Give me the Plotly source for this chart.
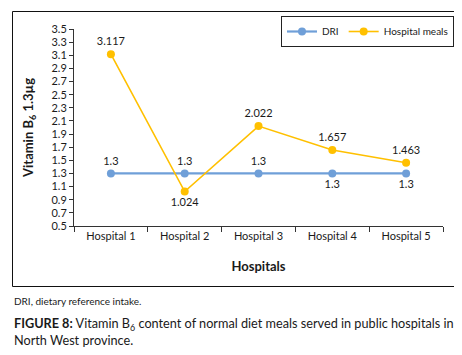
import plotly.graph_objects as go

categories = ["Hospital 1", "Hospital 2", "Hospital 3", "Hospital 4", "Hospital 5"]
dri = [1.3, 1.3, 1.3, 1.3, 1.3]
meals = [3.117, 1.024, 2.022, 1.657, 1.463]
dri_labels = ["1.3", "1.3", "1.3", "1.3", "1.3"]
meal_labels = ["3.117", "1.024", "2.022", "1.657", "1.463"]
dri_pos = ["top center", "top center", "top center", "bottom center", "bottom center"]
meal_pos = ["top center", "bottom center", "top center", "top center", "top center"]

FONT = "Lato"
TXT = "#1a1a1a"

fig = go.Figure()
fig.add_trace(go.Scatter(
    x=categories, y=dri, name="DRI", mode="lines+markers+text",
    line=dict(color="#6f9fd8", width=2.2), marker=dict(size=8, color="#6f9fd8"),
    text=dri_labels, textposition=dri_pos,
    textfont=dict(family=FONT, size=11, color=TXT), cliponaxis=False))
fig.add_trace(go.Scatter(
    x=categories, y=meals, name="Hospital meals", mode="lines+markers+text",
    line=dict(color="#ffc000", width=1.6), marker=dict(size=8, color="#ffc000"),
    text=meal_labels, textposition=meal_pos,
    textfont=dict(family=FONT, size=11, color=TXT), cliponaxis=False))

OFF = 8  # page body margin
L, R, T, B = 74, 443, 29, 226  # page coordinates of plot area
W, H = 454, 339  # figure size
pw, ph = R - L, B - T

def px(x):
    return (x - L) / pw

def py(y):
    return (B - y) / ph

fig.update_layout(
    width=W, height=H,
    margin=dict(l=L - OFF, r=W - (R - OFF), t=T - OFF, b=H - (B - OFF), autoexpand=False),
    paper_bgcolor="white", plot_bgcolor="white",
    font=dict(family=FONT, size=11, color=TXT),
    showlegend=True,
    legend=dict(orientation="h", x=px(454), xanchor="right", y=py(16), yanchor="top",
                bordercolor="#222", borderwidth=1, font=dict(size=10, family=FONT),
                bgcolor="white", itemwidth=30, tracegroupgap=0),
    xaxis=dict(type="category", range=[-0.5, 4.5], showline=True, linecolor="#333",
               linewidth=1, ticks="outside", tickson="boundaries", ticklen=5,
               tickcolor="#333", showgrid=False, zeroline=False, automargin=False,
               tickfont=dict(size=11, family=FONT),
               title=dict(text="<b>Hospitals</b>", font=dict(size=13, family=FONT), standoff=20)),
    yaxis=dict(range=[0.5, 3.5], tick0=0.5, dtick=0.2, tickformat=".1f",
               showline=True, linecolor="#333", linewidth=1, ticks="outside",
               ticklen=4, tickcolor="#333", showgrid=False, zeroline=False, automargin=False,
               tickfont=dict(size=11, family=FONT),
               title=dict(text="<b>Vitamin B<sub>6</sub> 1.3µg</b>", font=dict(size=13, family=FONT), standoff=14)),
)

fig.add_shape(type="rect", xref="paper", yref="paper",
              x0=px(12.5), x1=px(454.5), y0=py(286.5), y1=py(11.5),
              line=dict(color="#111", width=1))

fig.add_annotation(xref="paper", yref="paper", x=px(12), y=py(301), xanchor="left", yanchor="middle",
                   text="DRI, dietary reference intake.", showarrow=False,
                   font=dict(size=10, family=FONT, color=TXT), align="left")
fig.add_annotation(xref="paper", yref="paper", x=px(12), y=py(313), xanchor="left", yanchor="top",
                   text="<b>FIGURE 8:</b> Vitamin B<sub>6</sub> content of normal diet meals served in public hospitals in<br>North West province.",
                   showarrow=False, font=dict(size=12.7, family=FONT, color=TXT), align="left")

fig.write_html("out.html")
